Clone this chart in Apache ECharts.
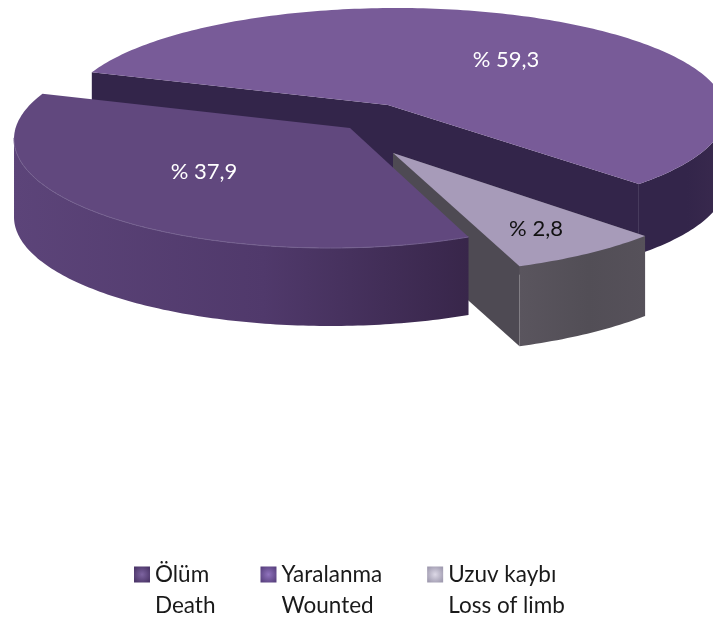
<!DOCTYPE html>
<html>
<head>
<meta charset="utf-8">
<style>
  html, body { margin: 0; padding: 0; background: #fff; }
  #chart { width: 713px; height: 619px; }
</style>
<script src="https://cdn.jsdelivr.net/npm/echarts@6/dist/echarts.min.js"></script>
</head>
<body>
<div id="chart"></div>
<script>
// Chart data
const categories = ['Ölüm', 'Yaralanma', 'Uzuv kaybı'];
const categoriesEn = ['Death', 'Wounted', 'Loss of limb'];
const percentages = [37.9, 59.3, 2.8];

// How each slice is drawn. The picture is a tilted 3D pie with perspective, so
// each slice has its own ellipse, and "stretch" widens or narrows its sweep
// (the small front slice looks much wider than 2.8 % in the original).
const sliceViews = [
  { cx: 330, cy: 139, rx: 316, ry: 109, apex: [350, 128], start: 64, stretch: 1.03, depth: 78,
    z: 3, top: '#61487e', wall: ['#5c4479', '#50396b', '#38264a'], edge: '#74608f', cut: null,
    label: [204, 172], labelColor: '#ffffff' },
  { cx: 396, cy: 113, rx: 330, ry: 105, apex: [388, 105], start: 202.8, stretch: 0.936, depth: 70,
    z: 1, top: '#785b98', wall: ['#33254a', '#33254a', '#3a2a4e'], edge: null, cut: '#33254a',
    label: [506, 60], labelColor: '#ffffff' },
  { cx: 390, cy: 160, rx: 340, ry: 115, apex: [393, 153], start: 41.4, stretch: 2.6, depth: 80,
    z: 2, top: '#a79bb9', wall: ['#5a555e', '#524e56', '#56515a'], edge: null, cut: '#4e4a53',
    label: [536, 229], labelColor: '#111111' }
];
const legendColors = [
  ['#7d64a0', '#4c3669'],
  ['#9073bd', '#5a4280'],
  ['#dcd8e6', '#a09bb0']
];

// Points of the arc of a slice, on its ellipse, from its value
function arcPoints(view, value) {
  const sweep = value * 3.6 * view.stretch;
  const steps = Math.max(8, Math.round(sweep));
  const points = [];
  for (let i = 0; i <= steps; i++) {
    const angle = (view.start + sweep * i / steps) * Math.PI / 180;
    points.push([view.cx + view.rx * Math.cos(angle), view.cy + view.ry * Math.sin(angle)]);
  }
  return points;
}

function lowered(points, depth) {
  return points.map(p => [p[0], p[1] + depth]);
}

function hGradient(colors) {
  return new echarts.graphic.LinearGradient(0, 0, 1, 0, [
    { offset: 0, color: colors[0] },
    { offset: 0.55, color: colors[1] },
    { offset: 1, color: colors[2] }
  ]);
}

function renderSlice(index) {
  const view = sliceViews[index];
  return function (params, api) {
    const value = api.value(0);
    const arc = arcPoints(view, value);
    const first = arc[0];
    const last = arc[arc.length - 1];
    const apexLow = [view.apex[0], view.apex[1] + view.depth];
    const children = [];

    // Cut faces, only on the slices where they can be seen
    if (view.cut) {
      [first, last].forEach(corner => {
        children.push({
          type: 'polygon',
          shape: { points: [view.apex, corner, [corner[0], corner[1] + view.depth], apexLow] },
          style: { fill: view.cut }
        });
      });
    }

    // Outer wall, the part facing the viewer
    const front = arc.filter(p => p[1] >= view.cy - 2);
    children.push({
      type: 'polygon',
      shape: { points: front.concat(lowered(front, view.depth).reverse()) },
      style: { fill: hGradient(view.wall) }
    });

    // Top of the slice
    children.push({
      type: 'polygon',
      shape: { points: [view.apex].concat(arc) },
      style: { fill: view.top }
    });

    if (view.edge) {
      children.push({
        type: 'polyline',
        shape: { points: front },
        style: { stroke: view.edge, lineWidth: 1, fill: null }
      });
    }

    children.push({
      type: 'text',
      x: view.label[0],
      y: view.label[1],
      style: {
        text: '% ' + value.toFixed(1).replace('.', ','),
        fill: view.labelColor,
        font: '22px Lato',
        align: 'center',
        verticalAlign: 'middle'
      }
    });

    return { type: 'group', children: children };
  };
}

const chart = echarts.init(document.getElementById('chart'), null, { renderer: 'canvas' });

const option = {
  animation: false,
  backgroundColor: '#ffffff',
  legend: {
    left: 129,
    top: 554,
    orient: 'horizontal',
    itemGap: 45,
    itemWidth: 16,
    itemHeight: 47,
    // Square in the upper part of a taller icon, so that it sits beside the first text line
    icon: 'path://M0 0H16V16H0ZM0 47H16V46.99H0Z',
    selectedMode: false,
    formatter: name => name + '\n' + categoriesEn[categories.indexOf(name)],
    textStyle: { fontFamily: 'Lato', fontSize: 22.5, lineHeight: 31, color: '#1a1a1a' },
    data: categories.map((name, i) => ({
      name: name,
      itemStyle: {
        color: new echarts.graphic.RadialGradient(0.5, 0.17, 0.6, [
          { offset: 0, color: legendColors[i][0] },
          { offset: 1, color: legendColors[i][1] }
        ])
      }
    }))
  },
  series: categories.map((name, i) => ({
    name: name,
    type: 'custom',
    coordinateSystem: 'none',
    z: sliceViews[i].z,
    itemStyle: { color: legendColors[i][1] },
    renderItem: renderSlice(i),
    data: [[percentages[i]]]
  }))
};

chart.setOption(option);
</script>
</body>
</html>
